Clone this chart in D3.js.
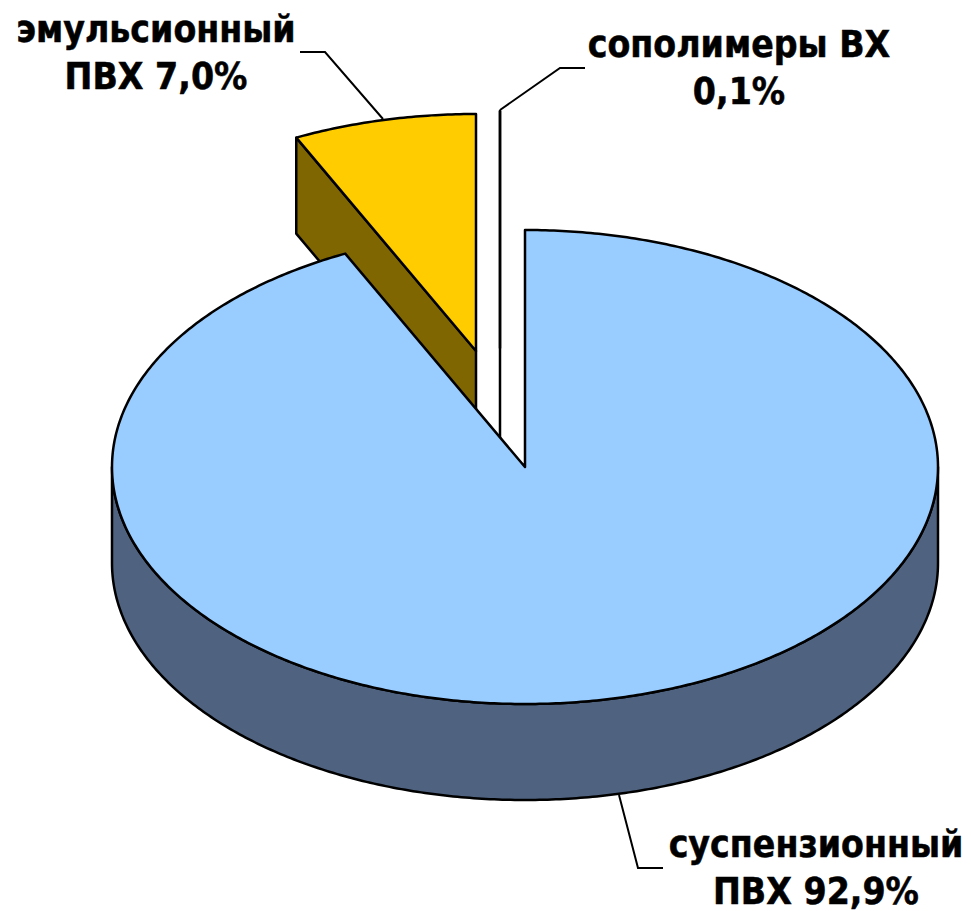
<!DOCTYPE html>
<html><head><meta charset="utf-8">
<script src="https://cdn.jsdelivr.net/npm/d3@7/dist/d3.min.js"></script>
<style>html,body{margin:0;padding:0;background:#fff}svg{display:block}
text{font-family:"DejaVu Sans",sans-serif;font-stretch:condensed;font-weight:700;fill:#000;stroke:#000;stroke-width:0.5px;text-anchor:middle}</style>
</head><body><div id="c"></div>
<script>
const categories = ["суспензионный ПВХ", "эмульсионный ПВХ", "сополимеры ВХ"];
const values = [92.9, 7.0, 0.1];
const labelLines = [["суспензионный","ПВХ 92,9%"],["эмульсионный","ПВХ 7,0%"],["сополимеры ВХ","0,1%"]];
const topColors = ["#99CCFF","#FFCC00","#FFFFFF"];
const sideColors = ["#4F6381","#806600","#FFFFFF"];
const explodeDx = [0,-49,-25];
const explodeDy = [0,-116,-119];
const labelX = [816,156,739];
const labelY = [857,42,57];
const leaders = [
  [[619,795],[638,868],[663,868]],
  [[383,119],[325,52],[300,52]],
  [[500,110],[560,68],[585,68]]
];

const W=971,H=911,cx=525,cy=467,rx=413,ry=237,depth=96;
const svg=d3.select("#c").append("svg").attr("width",W).attr("height",H);

const x=d3.scaleLinear().domain([-1,1]).range([cx-rx,cx+rx]);
const y=d3.scaleLinear().domain([-1,1]).range([cy-ry,cy+ry]);
// 3-D projection of the original slightly distorts the slice angles
const tau=2*Math.PI;
const warp=d3.scaleLinear().domain([0,0.929*tau,0.999*tau,tau]).range([0,(334.2/360)*tau,tau,tau]);
const arcs=d3.pie().sort(null).value(d=>d)(values);

const pt=(a,i,dz=0)=>[x(Math.sin(a))+explodeDx[i],y(-Math.cos(a))+explodeDy[i]+dz];
const rim=(a0,a1,i,dz=0)=>{const n=Math.max(2,Math.ceil(Math.abs(a1-a0)/0.01));
  return d3.range(n+1).map(k=>pt(a0+(a1-a0)*k/n,i,dz));};
const line=d3.line();
const centre=(i,dz=0)=>[x(0)+explodeDx[i],y(0)+explodeDy[i]+dz];
const strokeOf=(sel,w)=>sel.attr("stroke","#000").attr("stroke-width",w).attr("stroke-linejoin","round");

function drawSlice(i){
  const a0=warp(arcs[i].startAngle),a1=warp(arcs[i].endAngle);
  if(i===0){
    const s=Math.max(a0,Math.PI/2),e=Math.min(a1,3*Math.PI/2);
    const pts=rim(s,e,i).concat(rim(e,s,i,depth));
    strokeOf(svg.append("path").attr("d",line(pts)+"Z").attr("fill",sideColors[i]),2.5);
  } else {
    const pts=[pt(a0,i),pt(a0,i,depth),centre(i,depth),centre(i)];
    strokeOf(svg.append("path").attr("d",line(pts)+"Z").attr("fill",sideColors[i]),2.5);
  }
  const top=[centre(i)].concat(rim(a0,a1,i));
  strokeOf(svg.append("path").attr("d",line(top)+"Z").attr("fill",topColors[i]),2.5);
}
[2,1,0].forEach(drawSlice);

leaders.forEach(l=>svg.append("path").attr("d",line(l)).attr("fill","none").attr("stroke","#000").attr("stroke-width",2));

labelLines.forEach((ls,i)=>{
  ls.forEach((t,j)=>svg.append("text").attr("x",labelX[i]).attr("y",labelY[i]+j*46.5)
    .attr("font-size",37).text(t));
});
</script></body></html>
